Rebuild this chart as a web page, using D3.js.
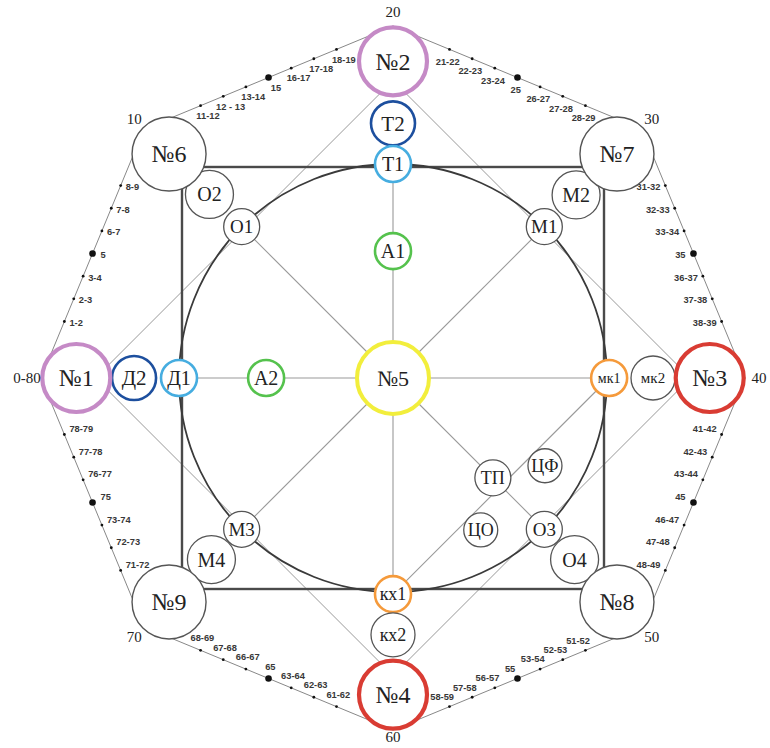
<!DOCTYPE html>
<html>
<head>
<meta charset="utf-8">
<script src="https://cdn.jsdelivr.net/npm/d3@7"></script>
<style>
  body { margin: 0; background: #fff; }
  svg text { font-family: "Liberation Serif", "Times New Roman", serif; fill: #222; }
  svg text.age { font-family: "Liberation Sans", Arial, sans-serif; font-weight: bold; font-size: 9.3px; fill: #383838; }
</style>
</head>
<body>
<div id="chart"></div>
<script>
// outer octagon: one big circle per decade, going clockwise from the left
const vertexNames = ["№1", "№6", "№2", "№7", "№3", "№8", "№4", "№9"];
const vertexAges = ["0-80", "10", "20", "30", "40", "50", "60", "70"];
const vertexRings = ["purple", "plain", "purple", "plain", "red", "plain", "red", "plain"];

// age marks between two decades
const edgeAges = [
    ["1-2", "2-3", "3-4", "5", "6-7", "7-8", "8-9"],
    ["11-12", "12 - 13", "13-14", "15", "16-17", "17-18", "18-19"],
    ["21-22", "22-23", "23-24", "25", "26-27", "27-28", "28-29"],
    ["31-32", "32-33", "33-34", "35", "36-37", "37-38", "38-39"],
    ["41-42", "42-43", "43-44", "45", "46-47", "47-48", "48-49"],
    ["51-52", "52-53", "53-54", "55", "56-57", "57-58", "58-59"],
    ["61-62", "62-63", "63-64", "65", "66-67", "67-68", "68-69"],
    ["71-72", "72-73", "73-74", "75", "76-77", "77-78", "78-79"]
];
const dotSteps = [2, 3, 4, 5, 6, 7, 8];   // year inside the decade, 5 is the big dot

// inner points
const innerNames = ["Т2", "Т1", "А1", "Д2", "Д1", "А2", "мк1", "мк2", "кх1", "кх2",
                    "О1", "О2", "М1", "М2", "М3", "М4", "О3", "О4", "ТП", "ЦФ", "ЦО"];
const innerRings = ["darkblue", "lightblue", "green", "darkblue", "lightblue", "green", "orange", "plain", "orange", "plain",
                    "plain", "plain", "plain", "plain", "plain", "plain", "plain", "plain", "plain", "plain", "plain"];

const W = 770, H = 748;
const cx = 393, cy = 378;

const ringColor = {
    purple: "#c58ac6", red: "#d93c33", plain: "#555",
    darkblue: "#1d4f9e", lightblue: "#46ade0", green: "#55c24d",
    orange: "#f59a3b", yellow: "#f2ee3c"
};

// radius in units of the inner circle
const unit = d3.scaleLinear().domain([0, 1]).range([0, 214]);
const vAngle = d3.scaleLinear().domain([0, 8]).range([180, 540]);
const along = d3.scaleLinear().domain([0, 10]).range([0.045, 0.955]);

function pt(deg, u) {
    const a = deg * Math.PI / 180;
    return [cx + unit(u) * Math.cos(a), cy + unit(u) * Math.sin(a)];
}

// polar spot of each inner point: [angle, radius, circle radius, font size]
const innerSpot = {
    "Т2": [270, 1.19, 22, 21], "Т1": [270, 1.0, 18, 20], "А1": [270, 0.593, 18, 20],
    "Д2": [180, 1.21, 22, 21], "Д1": [180, 1.0, 18, 20], "А2": [180, 0.593, 18, 20],
    "мк1": [0, 1.01, 18, 14], "мк2": [0, 1.215, 22, 15],
    "кх1": [90, 1.01, 18, 18], "кх2": [90, 1.2, 22, 18],
    "О1": [225, 1.0, 18, 19], "О2": [225, 1.213, 24, 20],
    "М1": [315, 1.0, 18, 19], "М2": [315, 1.21, 24, 20],
    "М3": [135, 1.0, 18, 19], "М4": [135, 1.2, 24, 20],
    "О3": [45, 1.0, 18, 19], "О4": [45, 1.2, 24, 20],
    "ТП": [45, 0.66, 18, 18], "ЦФ": [30, 0.82, 17, 18], "ЦО": [60, 0.82, 17, 18]
};

const svg = d3.select("#chart").append("svg")
    .attr("width", W)
    .attr("height", H);

const vertices = vertexNames.map((d, i) => pt(vAngle(i), 1.48));
const octagon = vertexNames.map((d, i) => pt(vAngle(i), 1.645));

// octagon edges
svg.append("g")
    .selectAll("line")
    .data(d3.range(8))
    .join("line")
    .attr("x1", i => octagon[i][0]).attr("y1", i => octagon[i][1])
    .attr("x2", i => octagon[(i + 1) % 8][0]).attr("y2", i => octagon[(i + 1) % 8][1])
    .attr("stroke", "#888")
    .attr("stroke-width", 1);

// age dots and labels
const marks = [];
edgeAges.forEach((labels, e) => {
    const a = octagon[e], b = octagon[(e + 1) % 8];
    const len = Math.hypot(b[0] - a[0], b[1] - a[1]);
    const t = [(b[0] - a[0]) / len, (b[1] - a[1]) / len];
    const mid = [(a[0] + b[0]) / 2, (a[1] + b[1]) / 2];
    let n = [-t[1], t[0]];
    if (n[0] * (cx - mid[0]) + n[1] * (cy - mid[1]) < 0) n = [-n[0], -n[1]];
    labels.forEach((lab, j) => {
        const f = along(dotSteps[j]);
        marks.push({
            label: lab, big: dotSteps[j] === 5,
            x: a[0] + (b[0] - a[0]) * f, y: a[1] + (b[1] - a[1]) * f,
            t: t, n: n, steep: Math.abs(t[1]) > Math.abs(t[0])
        });
    });
});

svg.append("g")
    .selectAll("circle")
    .data(marks)
    .join("circle")
    .attr("cx", d => d.x)
    .attr("cy", d => d.y)
    .attr("r", d => d.big ? 3.3 : 1.4)
    .attr("fill", "#111");

svg.append("g")
    .selectAll("text")
    .data(marks)
    .join("text")
    .attr("class", "age")
    .attr("text-anchor", d => d.steep ? (d.n[0] > 0 ? "start" : "end") : "middle")
    .attr("x", d => {
        if (d.steep) return d.x + Math.sign(d.n[0]) * (d.big ? 8 : 5);
        return d.x + d.n[0] * 12 + d.t[0] * 3;
    })
    .attr("y", d => {
        if (d.steep) return d.y + (d.y < cy ? 4.5 : -2.5);
        return d.y + d.n[1] * 12 + d.t[1] * 3 + 3.3;
    })
    .text(d => d.label);

// inner diamond
const diamond = [0, 2, 4, 6].map(i => pt(vAngle(i), 1.39));
svg.append("path")
    .attr("d", d3.line()(diamond) + "Z")
    .attr("fill", "none")
    .attr("stroke", "#999")
    .attr("stroke-width", 1);

// spokes through the centre
const pos = {};
innerNames.forEach(name => {
    const s = innerSpot[name];
    pos[name] = pt(s[0], s[1]);
});
pos["№5"] = [cx, cy];

const spokes = [["№5", "О1"], ["№5", "М1"], ["№5", "М3"], ["№5", "О3"],
                ["Т1", "кх1"], ["Д1", "мк1"], ["кх1", "мк1"]];
svg.append("g")
    .selectAll("line")
    .data(spokes)
    .join("line")
    .attr("x1", d => pos[d[0]][0]).attr("y1", d => pos[d[0]][1])
    .attr("x2", d => pos[d[1]][0]).attr("y2", d => pos[d[1]][1])
    .attr("stroke", "#999")
    .attr("stroke-width", 1.1);

// square and circle
const half = unit(0.986);
svg.append("rect")
    .attr("x", cx - half).attr("y", cy - half)
    .attr("width", half * 2).attr("height", half * 2)
    .attr("fill", "none")
    .attr("stroke", "#4a4a4a")
    .attr("stroke-width", 2.4);

svg.append("circle")
    .attr("cx", cx).attr("cy", cy)
    .attr("r", unit(1))
    .attr("fill", "none")
    .attr("stroke", "#3a3a3a")
    .attr("stroke-width", 1.8);

// inner circles
const inner = svg.append("g")
    .selectAll("g")
    .data(innerNames)
    .join("g")
    .attr("transform", d => `translate(${pos[d][0]},${pos[d][1]})`);

inner.append("circle")
    .attr("r", d => innerSpot[d][2])
    .attr("fill", "#fff")
    .attr("stroke", (d, i) => ringColor[innerRings[i]])
    .attr("stroke-width", (d, i) => innerRings[i] === "plain" ? 1.3 : 2.6);

inner.append("text")
    .attr("text-anchor", "middle")
    .attr("dy", "0.35em")
    .attr("font-size", d => innerSpot[d][3])
    .text(d => d);

// centre point №5
svg.append("circle")
    .attr("cx", cx).attr("cy", cy)
    .attr("r", 36)
    .attr("fill", "#fff")
    .attr("stroke", ringColor.yellow)
    .attr("stroke-width", 4);

svg.append("text")
    .attr("x", cx).attr("y", cy)
    .attr("dy", "0.35em")
    .attr("text-anchor", "middle")
    .attr("font-size", 22)
    .text("№5");

// decade circles
const outer = svg.append("g")
    .selectAll("g")
    .data(vertexNames)
    .join("g")
    .attr("transform", (d, i) => `translate(${vertices[i][0]},${vertices[i][1]})`);

outer.append("circle")
    .attr("r", (d, i) => vertexRings[i] === "plain" ? 37 : 34)
    .attr("fill", "#fff")
    .attr("stroke", (d, i) => ringColor[vertexRings[i]])
    .attr("stroke-width", (d, i) => vertexRings[i] === "plain" ? 1.4 : 4.2);

outer.append("text")
    .attr("text-anchor", "middle")
    .attr("dy", "0.35em")
    .attr("font-size", 24)
    .text(d => d);

// decade numbers outside, kept inside the page at the bottom
svg.append("g")
    .selectAll("text")
    .data(vertexAges)
    .join("text")
    .attr("x", (d, i) => pt(vAngle(i), 1.71)[0])
    .attr("y", (d, i) => Math.min(pt(vAngle(i), 1.71)[1], H - 11))
    .attr("dy", "0.35em")
    .attr("text-anchor", "middle")
    .attr("font-size", 15)
    .attr("fill", "#333")
    .text(d => d);
</script>
</body>
</html>
